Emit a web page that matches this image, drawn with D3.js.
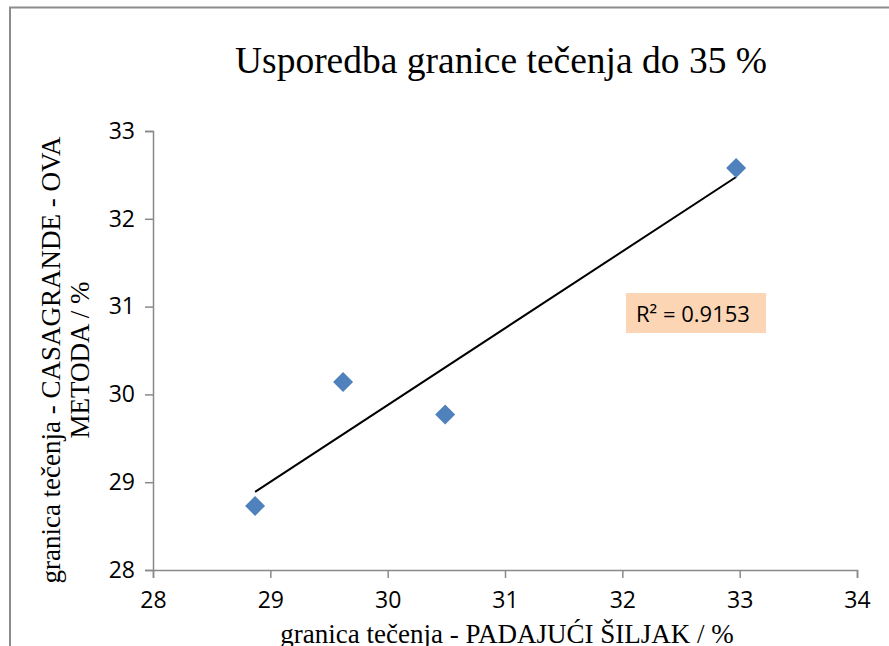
<!DOCTYPE html>
<html>
<head>
<meta charset="utf-8">
<script src="https://cdn.jsdelivr.net/npm/d3@7"></script>
<style>
  body { margin: 0; background: #fff; }
  .axis path, .axis line { stroke: #898989; stroke-width: 1.5; }
  .axis text { font-family: "Open Sans", sans-serif; font-size: 23px; fill: #000; }
</style>
</head>
<body>
<script>
// measured points: padajući šiljak (x) vs Casagrande (y)
var xVals = [28.87, 29.62, 30.49, 32.97];
var yVals = [28.73, 30.14, 29.77, 32.58];
var xTicks = [28, 29, 30, 31, 32, 33, 34];
var yTicks = [28, 29, 30, 31, 32, 33];
var r2Label = "R² = 0.9153";

var data = xVals.map(function(d, i) { return [d, yVals[i]]; });

var W = 889, H = 646;
var margin = {top: 131, right: 32, bottom: 76, left: 153}
, width = W - margin.left - margin.right
, height = H - margin.top - margin.bottom;

var x = d3.scaleLinear().domain([28, 34]).range([0, width]);
var y = d3.scaleLinear().domain([28, 33]).range([height, 0]);

var svg = d3.select('body').append('svg')
    .attr('width', W)
    .attr('height', H);

// chart frame
svg.append('rect')
    .attr('x', 10).attr('y', 7.5)
    .attr('width', 900).attr('height', 700)
    .attr('fill', 'none').attr('stroke', '#8c8c8c').attr('stroke-width', 2);

svg.append('text')
    .attr('x', 501).attr('y', 73)
    .attr('text-anchor', 'middle')
    .style('font-family', '"Liberation Serif", "Times New Roman", serif')
    .style('font-size', '37.5px')
    .text('Usporedba granice tečenja do 35 %');

var main = svg.append('g')
    .attr('transform', 'translate(' + margin.left + ',' + margin.top + ')');

var xAxis = d3.axisBottom(x).tickValues(xTicks).tickFormat(d3.format('d'))
    .tickSize(8).tickSizeOuter(8).tickPadding(14);
main.append('g').attr('class', 'axis')
    .attr('transform', 'translate(0,' + height + ')')
    .call(xAxis);

var yAxis = d3.axisLeft(y).tickValues(yTicks).tickFormat(d3.format('d'))
    .tickSize(8).tickSizeOuter(8).tickPadding(10);
main.append('g').attr('class', 'axis').call(yAxis);

// axis titles
svg.append('text')
    .attr('x', 507).attr('y', 643)
    .attr('text-anchor', 'middle')
    .style('font-family', '"Liberation Serif", "Times New Roman", serif')
    .style('font-size', '27px')
    .text('granica tečenja - PADAJUĆI ŠILJAK / %');

var yt = svg.append('text')
    .attr('transform', 'translate(60,360) rotate(-90)')
    .attr('text-anchor', 'middle')
    .style('font-family', '"Liberation Serif", "Times New Roman", serif')
    .style('font-size', '27px');
yt.append('tspan').attr('x', 0).attr('y', 0).text('granica tečenja - CASAGRANDE - OVA');
yt.append('tspan').attr('x', 0).attr('y', 29).text('METODA / %');

// linear trendline (least squares)
var mx = d3.mean(xVals), my = d3.mean(yVals);
var sxy = d3.sum(data, function(d) { return (d[0] - mx) * (d[1] - my); });
var sxx = d3.sum(data, function(d) { return (d[0] - mx) * (d[0] - mx); });
var slope = sxy / sxx, icpt = my - slope * mx;
var xExt = d3.extent(xVals);

main.append('line')
    .attr('x1', x(xExt[0])).attr('y1', y(slope * xExt[0] + icpt))
    .attr('x2', x(xExt[1])).attr('y2', y(slope * xExt[1] + icpt))
    .attr('stroke', '#000').attr('stroke-width', 2);

main.selectAll('path.pt')
    .data(data)
    .enter().append('path')
    .attr('class', 'pt')
    .attr('d', d3.symbol().type(d3.symbolSquare).size(200))
    .attr('transform', function(d) { return 'translate(' + x(d[0]) + ',' + y(d[1]) + ') rotate(45)'; })
    .attr('fill', '#4f81bd');

// R² label
svg.append('rect')
    .attr('x', 626).attr('y', 293)
    .attr('width', 140).attr('height', 40)
    .attr('fill', '#fcd5b5');
svg.append('text')
    .attr('x', 636).attr('y', 322)
    .style('font-family', '"Open Sans", sans-serif')
    .style('font-size', '22px')
    .text(r2Label);
</script>
</body>
</html>
